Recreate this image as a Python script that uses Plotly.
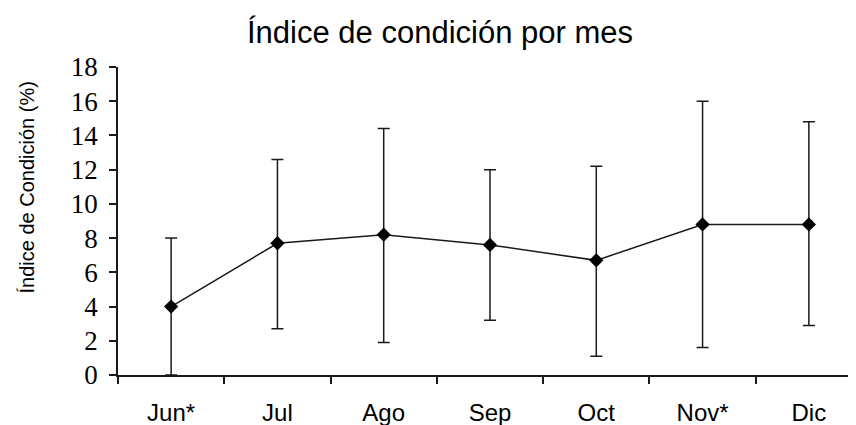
import plotly.graph_objects as go

months = ["Jun*", "Jul", "Ago", "Sep", "Oct", "Nov*", "Dic"]
mean_ci = [4.0, 7.7, 8.2, 7.6, 6.7, 8.8, 8.8]
upper = [8.0, 12.6, 14.4, 12.0, 12.2, 16.0, 14.8]
lower = [0.0, 2.7, 1.9, 3.2, 1.1, 1.6, 2.9]

err_plus = [u - m for u, m in zip(upper, mean_ci)]
err_minus = [m - l for m, l in zip(mean_ci, lower)]

W, H = 856, 425
ML, MR, MT, MB = 110, 2, 59, 58
plot_w = W - ML - MR
plot_h = H - MT - MB

fig = go.Figure()
fig.add_trace(go.Scatter(
    x=months, y=mean_ci, mode="lines+markers",
    line=dict(color="#1a1a1a", width=1.5),
    marker=dict(symbol="diamond", size=11, color="black"),
    error_y=dict(type="data", symmetric=False, array=err_plus, arrayminus=err_minus,
                 color="#1a1a1a", thickness=1.5, width=6),
    cliponaxis=False,
    showlegend=False,
))

fig.add_annotation(
    text="Índice de Condición (%)", textangle=-90,
    xref="paper", yref="paper",
    x=(18 - ML) / plot_w, y=(H - MB - 179.5) / plot_h,
    xanchor="center", yanchor="middle", showarrow=False,
    font=dict(family="Liberation Sans, Arial", size=20, color="black"),
)

fig.update_layout(
    width=W, height=H,
    margin=dict(l=ML, r=MR, t=MT, b=MB),
    paper_bgcolor="white", plot_bgcolor="white",
    title=dict(text="Índice de condición por mes", x=432/856, xanchor="center", y=1 - 24/425, yanchor="middle",
               font=dict(family="Liberation Sans, Arial", size=31, color="black")),
    xaxis=dict(
        type="category", range=[-0.5, 6.5], tickson="boundaries",
        showline=True, linecolor="#1a1a1a", linewidth=1.5,
        ticks="outside", ticklen=7, tickwidth=1.5, tickcolor="#1a1a1a",
        showgrid=False, zeroline=False, ticklabelstandoff=15,
        tickfont=dict(family="Liberation Sans, Arial", size=24, color="black"),
    ),
    yaxis=dict(
        range=[0, 18], tickvals=list(range(0, 19, 2)),
        showline=True, linecolor="#1a1a1a", linewidth=1.5,
        ticks="outside", ticklen=7, tickwidth=1.5, tickcolor="#1a1a1a",
        showgrid=False, zeroline=False, ticklabelstandoff=6,
        tickfont=dict(family="Liberation Serif, Times New Roman", size=27, color="black"),
    ),
)

fig.write_html("out.html")
